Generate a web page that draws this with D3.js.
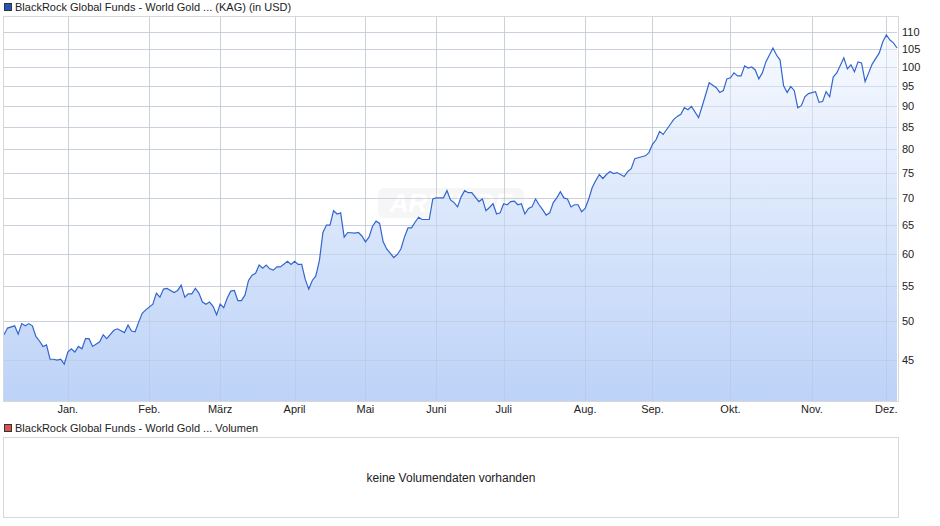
<!DOCTYPE html>
<html>
<head>
<meta charset="utf-8">
<script src="https://cdn.jsdelivr.net/npm/d3@7"></script>
<style>
  body { margin: 0; background: #fff; }
  svg { display: block; font-family: "Liberation Sans", Arial, sans-serif; }
</style>
</head>
<body>
<script>
// trading day index and fund price (USD)
const days = [0,1,3,4,5,6,7,8,9,10,11,12,13,14,15,16,17,18,19,20,21,22,23,24,25,27,28,29,31,32,34,35,36,37,38,39,40,42,43,44,45,46,48,49,50,51,52,53,54,55,56,57,58,59,60,61,62,63,64,65,66,67,68,69,70,71,72,73,74,75,76,77,78,80,81,82,83,84,85,86,87,88,89,90,91,92,93,94,95,96,97,99,100,101,102,103,104,105,106,107,108,110,111,112,113,114,115,116,117,118,120,121,122,124,125,126,127,128,129,130,131,132,134,135,136,137,138,139,140,141,142,143,144,145,146,147,148,149,150,151,152,153,154,155,156,157,158,159,160,161,162,163,164,165,166,167,168,169,170,171,172,173,175,176,177,178,180,181,182,183,184,185,186,188,189,190,191,192,193,194,196,197,199,201,202,203,204,205,206,207,208,209,210,211,212,213,214,215,217,218,219,220,221,222,223,224,225,226,227,229,230,231,232,233,234,235,237,238,239,240,241,242,243,244,245,247,248,249,250,251,252];
const prices = [48.2,49.1,49.4,48.3,49.7,49.4,49.7,49.4,48.0,47.4,46.7,46.9,45.1,45.1,45.0,45.1,44.5,46.0,46.4,46.0,46.7,46.4,47.7,47.7,46.7,47.3,48.2,47.7,48.8,49.0,48.5,49.5,48.7,48.6,49.9,51.1,51.6,52.4,54.0,53.4,54.6,54.7,54.1,54.4,55.2,53.4,53.9,53.9,54.7,54.0,52.7,52.4,52.7,52.1,50.9,52.4,51.9,53.3,54.3,54.4,52.9,52.9,53.7,55.9,56.7,57.0,58.3,57.8,58.3,57.7,57.5,58.0,58.0,58.9,58.4,58.9,58.4,58.4,56.1,54.6,55.9,56.6,59.0,63.7,65.0,65.0,67.6,67.0,67.2,62.9,63.7,63.6,63.7,63.1,62.1,62.9,64.8,65.7,65.3,62.1,60.9,59.5,60.0,60.9,62.9,64.5,64.5,65.5,66.4,66.0,66.0,69.8,70.0,70.0,71.4,69.6,69.1,68.3,70.2,71.4,71.0,71.0,69.3,69.8,67.6,68.2,68.9,67.0,67.2,68.9,68.7,69.3,69.4,68.7,68.9,67.0,68.0,68.3,69.8,68.7,67.8,66.8,67.2,69.1,70.0,71.2,70.0,69.8,68.3,68.7,68.7,67.4,68.0,69.8,72.0,73.4,74.6,73.8,74.6,75.2,74.8,75.0,74.2,75.2,75.8,77.9,78.3,78.5,79.2,81.0,82.0,83.9,83.2,85.5,86.7,87.4,87.9,89.5,89.0,89.8,87.1,89.8,95.8,94.5,93.3,93.8,96.8,97.1,98.4,97.6,97.6,100.3,99.7,100.0,99.2,96.8,98.4,101.4,105.3,103.3,101.9,95.0,93.3,94.8,93.8,89.5,90.0,92.2,93.0,93.5,90.8,91.0,93.5,92.2,97.3,98.4,102.5,99.5,100.6,98.7,101.4,101.1,96.1,98.4,100.8,103.9,107.1,109.1,107.6,106.8,105.3];
const monthLabels = ["Jan.","Feb.","März","April","Mai","Juni","Juli","Aug.","Sep.","Okt.","Nov.","Dez."];
const monthDays = [18,41,61,82,102,122,141,164,183,205,228,249];
const yTicks = [45,50,55,60,65,70,75,80,85,90,95,100,105,110];

const W = 940, H = 526;
const plotLeft = 4, plotRight = 897, plotTop = 16, plotBottom = 401;

const svg = d3.select("body").append("svg").attr("width", W).attr("height", H);

const x = d3.scaleLinear().domain([0, 252]).range([plotLeft, plotRight]);
const y = d3.scaleLog().domain([40.25, 114.9]).range([plotBottom, plotTop]);

const data = days.map((d, i) => ({ d: d, v: prices[i] }));

// gradient fill
const grad = svg.append("defs").append("linearGradient")
    .attr("id", "fillGrad").attr("x1", 0).attr("y1", 0).attr("x2", 0).attr("y2", 1);
grad.append("stop").attr("offset", "0%").attr("stop-color", "#f7faff");
grad.append("stop").attr("offset", "100%").attr("stop-color", "#b9d0f7");

const drawGrid = (color, opacity) => {
    svg.append("g").selectAll("line").data(yTicks).join("line")
        .attr("x1", plotLeft).attr("x2", plotRight)
        .attr("y1", d => Math.round(y(d)) + 0.5).attr("y2", d => Math.round(y(d)) + 0.5)
        .attr("stroke", color).attr("stroke-opacity", opacity);
    svg.append("g").selectAll("line").data(monthDays).join("line")
        .attr("x1", d => Math.round(x(d)) + 0.5).attr("x2", d => Math.round(x(d)) + 0.5)
        .attr("y1", plotTop).attr("y2", plotBottom)
        .attr("stroke", color).attr("stroke-opacity", opacity);
}

drawGrid("#dcdcdc", 1);

// watermark
const wm = svg.append("g").attr("opacity", 0.35);
wm.append("rect").attr("x", 378).attr("y", 188).attr("width", 146).attr("height", 30)
    .attr("rx", 6).attr("fill", "#e8e8e8");
wm.append("text").attr("x", 451).attr("y", 212).attr("text-anchor", "middle")
    .attr("font-size", 26).attr("font-weight", "bold").attr("font-style", "italic")
    .attr("fill", "#ffffff").text("ARIVA.DE");

// area + line
svg.append("path").datum(data)
    .attr("d", d3.area().x(d => x(d.d)).y0(plotBottom).y1(d => y(d.v)))
    .attr("fill", "url(#fillGrad)").attr("opacity", 0.95);

drawGrid("#b8c6de", 0.5);

svg.append("path").datum(data)
    .attr("d", d3.line().x(d => x(d.d)).y(d => y(d.v)))
    .attr("fill", "none").attr("stroke", "#3366cc").attr("stroke-width", 1.2);

// plot frame
svg.append("rect").attr("x", plotLeft - 0.5).attr("y", plotTop + 0.5)
    .attr("width", plotRight - plotLeft + 2).attr("height", plotBottom - plotTop)
    .attr("fill", "none").attr("stroke", "#d8d8d8");

// y labels
svg.append("g").selectAll("text").data(yTicks).join("text")
    .attr("x", 902).attr("y", d => y(d) + 4)
    .attr("font-size", 11).attr("fill", "#222").text(d => d);

// month labels
svg.append("g").selectAll("text").data(monthDays).join("text")
    .attr("x", d => x(d)).attr("y", 413).attr("text-anchor", "middle")
    .attr("font-size", 11).attr("fill", "#222").text((d, i) => monthLabels[i]);

// legends
svg.append("rect").attr("x", 4.5).attr("y", 3.5).attr("width", 7).attr("height", 7)
    .attr("fill", "#2255bb").attr("stroke", "#333");
svg.append("text").attr("x", 15).attr("y", 11).attr("font-size", 11).attr("fill", "#222")
    .text("BlackRock Global Funds - World Gold ... (KAG) (in USD)");
svg.append("rect").attr("x", 4.5).attr("y", 424.5).attr("width", 7).attr("height", 7)
    .attr("fill", "#d9534f").attr("stroke", "#333");
svg.append("text").attr("x", 15).attr("y", 432).attr("font-size", 11).attr("fill", "#222")
    .text("BlackRock Global Funds - World Gold ... Volumen");

// volume panel
svg.append("rect").attr("x", 3.5).attr("y", 437.5).attr("width", 895).attr("height", 80)
    .attr("fill", "none").attr("stroke", "#d8d8d8");
svg.append("text").attr("x", 451).attr("y", 482).attr("text-anchor", "middle")
    .attr("font-size", 12).attr("fill", "#222").text("keine Volumendaten vorhanden");
</script>
</body>
</html>
